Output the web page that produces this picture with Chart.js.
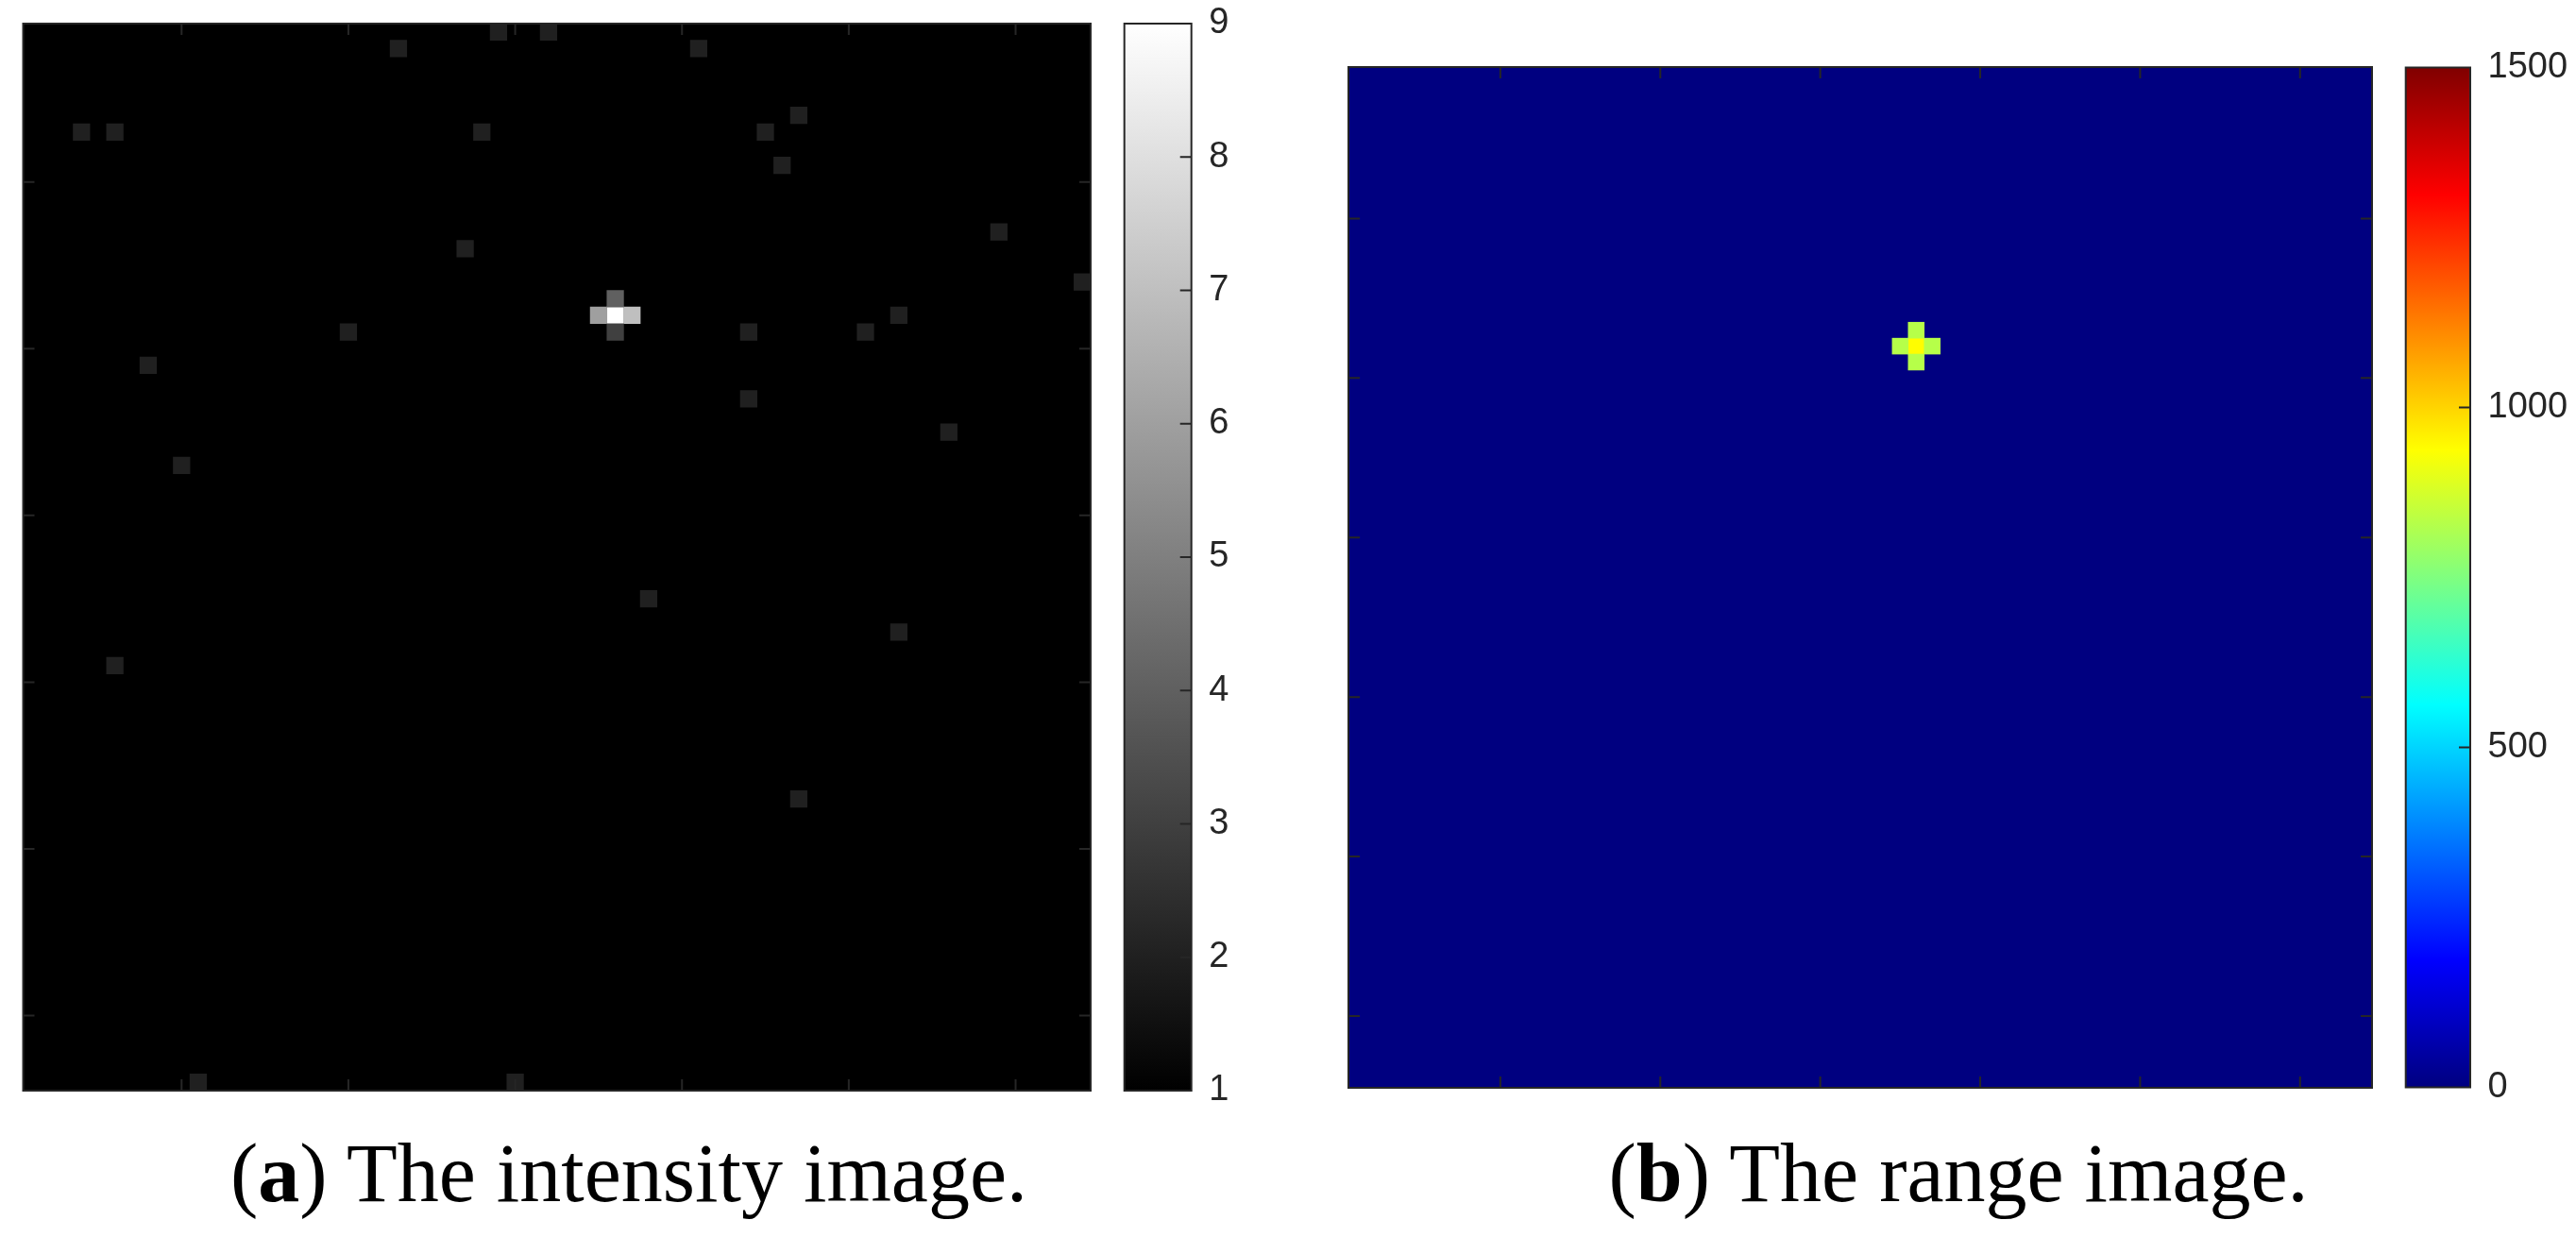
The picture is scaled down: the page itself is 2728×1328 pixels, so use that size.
<!DOCTYPE html>
<html>
<head>
<meta charset="utf-8">
<script src="https://cdn.jsdelivr.net/npm/chart.js@4.4.1/dist/chart.umd.min.js"></script>
<style>
  html, body { margin: 0; padding: 0; background: #fff; }
  body { width: 2728px; height: 1328px; position: relative; overflow: hidden; }
  canvas { position: absolute; }
  .cap {
    position: absolute;
    font-family: "Liberation Serif", serif;
    font-size: 88px;
    line-height: 88px;
    color: #000;
    white-space: nowrap;
    transform: translateX(-50%);
  }
</style>
</head>
<body>
<canvas id="intensityMap"></canvas>
<canvas id="intensityBar"></canvas>
<canvas id="rangeMap"></canvas>
<canvas id="rangeBar"></canvas>
<div class="cap" style="left:666px; top:1199px;">(<b>a</b>) The intensity image.</div>
<div class="cap" style="left:2074px; top:1199px;">(<b>b</b>) The range image.</div>

<script>
const gridSize = 64;
const axisTicks = [10, 20, 30, 40, 50, 60];

// intensity image: every pixel is 1 except these
const intensityBase = 1;
const intensityCols = [23, 29, 32, 41, 4, 6, 28, 45, 47, 46, 27, 59, 64, 36, 35, 37, 36, 36, 20, 44, 51, 53, 8, 44, 56, 10, 38, 53, 6, 47, 11, 30];
const intensityRows = [2, 1, 1, 2, 7, 7, 7, 7, 6, 9, 14, 13, 16, 18, 18, 18, 17, 19, 19, 19, 19, 18, 21, 23, 25, 27, 35, 37, 39, 47, 64, 64];
const intensityVals = [2, 2, 2, 2, 2, 2, 2, 2, 2, 2, 2, 2, 2, 9, 6, 7, 4, 3, 2, 2, 2, 2, 2, 2, 2, 2, 2, 2, 2, 2, 2, 2];
const intensityLimits = [1, 9];
const intensityBarTicks = [1, 2, 3, 4, 5, 6, 7, 8, 9];

// range image: every pixel is 0 except the target
const rangeBase = 0;
const rangeCols = [36, 35, 37, 36, 36];
const rangeRows = [18, 18, 18, 17, 19];
const rangeVals = [940, 830, 830, 830, 830];
const rangeLimits = [0, 1500];
const rangeBarTicks = [0, 500, 1000, 1500];

const axisColor = '#262626';
const tickLen = 12;
const labelSpace = 110;

const colormaps = {
  gray: t => {
    const g = Math.round(255 * Math.min(1, Math.max(0, t)));
    return `rgb(${g},${g},${g})`;
  },
  jet: t => {
    const f = x => Math.round(255 * Math.min(1, Math.max(0, x)));
    return `rgb(${f(1.5 - Math.abs(4 * t - 3))},${f(1.5 - Math.abs(4 * t - 2))},${f(1.5 - Math.abs(4 * t - 1))})`;
  }
};
const gradientStops = {
  gray: [0, 1],
  jet: [0, 0.125, 0.375, 0.625, 0.875, 1]
};

const colorFor = (name, v, limits) => colormaps[name]((v - limits[0]) / (limits[1] - limits[0]));

const placeCanvas = (id, box) => {
  let canvas = document.getElementById(id);
  canvas.width = box.w;
  canvas.height = box.h;
  canvas.style.left = box.x + 'px';
  canvas.style.top = box.y + 'px';
  return canvas;
};

// background fill, box and inward ticks on all four sides (matlab style)
const mapFrame = {
  id: 'mapFrame',
  beforeDatasetsDraw(chart, args, opts) {
    const {ctx, chartArea: a} = chart;
    ctx.save();
    ctx.fillStyle = colorFor(opts.cmap, opts.base, opts.limits);
    ctx.fillRect(a.left, a.top, a.width, a.height);
    ctx.restore();
  },
  afterDraw(chart) {
    const {ctx, chartArea: a, scales} = chart;
    ctx.save();
    ctx.strokeStyle = axisColor;
    ctx.lineWidth = 2;
    ctx.beginPath();
    for (const t of axisTicks) {
      let px = scales.x.getPixelForValue(t);
      ctx.moveTo(px, a.bottom);
      ctx.lineTo(px, a.bottom - tickLen);
      ctx.moveTo(px, a.top);
      ctx.lineTo(px, a.top + tickLen);
      let py = scales.y.getPixelForValue(t);
      ctx.moveTo(a.left, py);
      ctx.lineTo(a.left + tickLen, py);
      ctx.moveTo(a.right, py);
      ctx.lineTo(a.right - tickLen, py);
    }
    ctx.stroke();
    ctx.strokeRect(a.left, a.top, a.width, a.height);
    ctx.restore();
  }
};

const barFrame = {
  id: 'barFrame',
  afterDraw(chart) {
    const {ctx, chartArea: a, scales} = chart;
    ctx.save();
    ctx.strokeStyle = axisColor;
    ctx.lineWidth = 2;
    ctx.beginPath();
    for (const tick of scales.y.ticks) {
      if (tick.value <= scales.y.min || tick.value >= scales.y.max) continue;
      let py = scales.y.getPixelForValue(tick.value);
      ctx.moveTo(a.right, py);
      ctx.lineTo(a.right - tickLen, py);
    }
    ctx.stroke();
    ctx.strokeRect(a.left, a.top, a.width, a.height);
    ctx.restore();
  }
};

const makeMap = (id, box, cols, rows, vals, base, limits, cmap) => {
  let canvas = placeCanvas(id, box);
  let points = cols.map((c, i) => ({x: c, y: rows[i], v: vals[i]}));
  return new Chart(canvas, {
    type: 'scatter',
    data: {
      datasets: [{
        data: points,
        clip: 0,
        pointStyle: 'rect',
        borderWidth: 0,
        pointRadius: (ctx) => {
          let s = ctx.chart.scales;
          let side = Math.max(
            Math.abs(s.x.getPixelForValue(1) - s.x.getPixelForValue(0)),
            Math.abs(s.y.getPixelForValue(1) - s.y.getPixelForValue(0))
          ) + 0.6;
          return side / Math.SQRT2;
        },
        backgroundColor: (ctx) => colorFor(cmap, ctx.raw ? ctx.raw.v : base, limits)
      }]
    },
    options: {
      responsive: false,
      animation: false,
      devicePixelRatio: 1,
      events: [],
      layout: { padding: box.pad },
      plugins: {
        legend: { display: false },
        tooltip: { enabled: false },
        mapFrame: { base: base, limits: limits, cmap: cmap }
      },
      scales: {
        x: { type: 'linear', min: 0.5, max: gridSize + 0.5, display: false },
        y: { type: 'linear', min: 0.5, max: gridSize + 0.5, reverse: true, display: false }
      }
    },
    plugins: [mapFrame]
  });
};

const makeBar = (id, box, limits, tickValues, cmap) => {
  let canvas = placeCanvas(id, box);
  return new Chart(canvas, {
    type: 'bar',
    data: {
      labels: [''],
      datasets: [{
        data: [[limits[0], limits[1]]],
        borderWidth: 0,
        barPercentage: 1,
        categoryPercentage: 1,
        backgroundColor: (ctx) => {
          let chart = ctx.chart;
          if (!chart.chartArea) return colorFor(cmap, limits[0], limits);
          let y = chart.scales.y;
          let g = chart.ctx.createLinearGradient(0, y.getPixelForValue(limits[0]), 0, y.getPixelForValue(limits[1]));
          for (const t of gradientStops[cmap]) g.addColorStop(t, colormaps[cmap](t));
          return g;
        }
      }]
    },
    options: {
      responsive: false,
      animation: false,
      devicePixelRatio: 1,
      events: [],
      layout: { padding: box.pad },
      plugins: { legend: { display: false }, tooltip: { enabled: false } },
      scales: {
        x: { display: false },
        y: {
          position: 'right',
          min: limits[0],
          max: limits[1],
          grid: { display: false, drawTicks: false },
          border: { display: false },
          afterBuildTicks: (s) => { s.ticks = tickValues.map(v => ({value: v})); },
          afterFit: (s) => { s.width = labelSpace; },
          ticks: {
            padding: 18.5,
            color: axisColor,
            font: { family: 'Liberation Sans', size: 38 },
            callback: (v) => String(v)
          }
        }
      }
    },
    plugins: [barFrame]
  });
};

makeMap('intensityMap', {x: 0, y: 0, w: 1170, h: 1170, pad: {left: 24.5, top: 25, right: 15, bottom: 15}},
  intensityCols, intensityRows, intensityVals, intensityBase, intensityLimits, 'gray');
makeBar('intensityBar', {x: 1180, y: -17, w: 200, h: 1214, pad: {left: 10.7, top: 42, right: 8.3, bottom: 42}},
  intensityLimits, intensityBarTicks, 'gray');
makeMap('rangeMap', {x: 1400, y: 40, w: 1130, h: 1130, pad: {left: 28, top: 31, right: 18, bottom: 18}},
  rangeCols, rangeRows, rangeVals, rangeBase, rangeLimits, 'jet');
makeBar('rangeBar', {x: 2530, y: 29, w: 198, h: 1165, pad: {left: 17.7, top: 42.5, right: 2, bottom: 42.5}},
  rangeLimits, rangeBarTicks, 'jet');
</script>
</body>
</html>
